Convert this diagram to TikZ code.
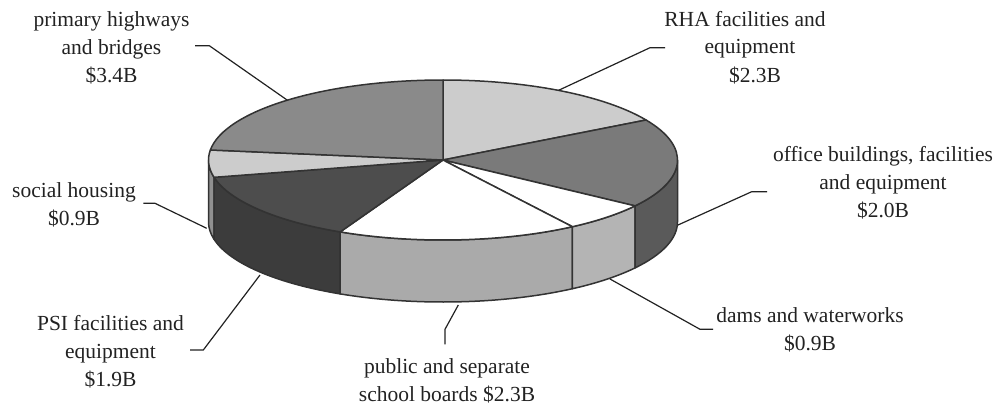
\documentclass[tikz,border=0pt]{standalone}
\usepackage{fontspec}
\setmainfont{Liberation Serif}
\usetikzlibrary{calc}
\definecolor{edge}{HTML}{333333}
\definecolor{ink}{HTML}{222222}
\definecolor{cHigh}{HTML}{8A8A8A}
\definecolor{cRHA}{HTML}{CCCCCC}
\definecolor{cOffTop}{HTML}{7A7A7A}
\definecolor{cOffSide}{HTML}{5A5A5A}
\definecolor{cDamSide}{HTML}{B4B4B4}
\definecolor{cSchSide}{HTML}{AAAAAA}
\definecolor{cPSITop}{HTML}{4D4D4D}
\definecolor{cPSISide}{HTML}{3C3C3C}
\definecolor{cSocTop}{HTML}{CCCCCC}
\definecolor{cSocSide}{HTML}{909090}
\begin{document}
\begin{tikzpicture}[x=1pt,y=1pt,
  slice/.style={draw=edge,line width=1.5pt,line join=round},
  leader/.style={draw=ink,line width=1.2pt},
  lbl/.style={text=ink,align=center,anchor=base,inner sep=0pt,
    font=\fontsize{21.5}{28}\selectfont}]
\useasboundingbox (0,0) rectangle (1000,408);
\def\cx{443}\def\cy{248}\def\rx{234.5}\def\ry{80}\def\dd{62}
% side walls
\newcommand{\sidewall}[3]{%
  \path[slice,fill=#3] ({\cx+\rx*cos(#1)},{\cy+\ry*sin(#1)})
    arc[start angle=#1,end angle=#2,x radius=\rx pt,y radius=\ry pt]
    -- ++(0,-\dd)
    arc[start angle=#2,end angle=#1,x radius=\rx pt,y radius=\ry pt]
    -- cycle;}
\sidewall{-180}{-167.5}{cSocSide}
\sidewall{-167.5}{-116}{cPSISide}
\sidewall{-116}{-56.5}{cSchSide}
\sidewall{-56.5}{-35}{cDamSide}
\sidewall{-35}{0}{cOffSide}
% top sectors
\newcommand{\sector}[3]{%
  \path[slice,fill=#3] (\cx,\cy) -- ({\cx+\rx*cos(#1)},{\cy+\ry*sin(#1)})
    arc[start angle=#1,end angle=#2,x radius=\rx pt,y radius=\ry pt] -- cycle;}
\sector{90}{30}{cRHA}
\sector{30}{-35}{cOffTop}
\sector{-35}{-56.5}{white}
\sector{-56.5}{-116}{white}
\sector{-116}{-167.5}{cPSITop}
\sector{-167.5}{-187.2}{cSocTop}
\sector{-187.2}{-270}{cHigh}
% leader anchor points
\coordinate (pHigh) at ({\cx+\rx*cos(131.6)},{\cy+\ry*sin(131.6)});
\coordinate (pRHA) at ({\cx+\rx*cos(60.5)},{\cy+\ry*sin(60.5)});
\coordinate (pOff) at (678,183);
\coordinate (pDam) at (610,129);
\coordinate (pSch) at (458.3,103);
\coordinate (pPSI) at (260,133);
\coordinate (pSoc) at (206.7,179.7);
% labels (anchor = baseline of last line)
\node[lbl] (lHigh) at (111.5,325.3) {primary highways\\and bridges\\\$3.4B};
\node[lbl] (lRHA) at (745,326) {RHA facilities and\\\hspace*{10pt}equipment\\\hspace*{20pt}\$2.3B};
\node[lbl] (lOff) at (883,190.3) {office buildings, facilities\\and equipment\\\$2.0B};
\node[lbl] (lSoc) at (74,182.7) {social housing\\\$0.9B};
\node[lbl] (lPSI) at (110.5,22) {PSI facilities and\\equipment\\\$1.9B};
\node[lbl] (lDam) at (810,57.3) {dams and waterworks\\\$0.9B};
\node[lbl] (lSch) at (447,6.7) {public and separate\\school boards \$2.3B};
% leaders
\coordinate (eHigh) at (195,362.3);
\coordinate (eRHA) at (665,360.3);
\coordinate (eOff) at (767,216.3);
\coordinate (eDam) at (713,78.7);
\coordinate (eSch) at (445,63.7);
\coordinate (ePSI) at (190,58);
\coordinate (eSoc) at (143.3,204.7);
\draw[leader] (eHigh) -- (209.3,362.3) -- (pHigh);
\draw[leader] (eRHA) -- (650,360.3) -- (pRHA);
\draw[leader] (eOff) -- (751.7,216.3) -- (pOff);
\draw[leader] (eDam) -- (700,78.7) -- (pDam);
\draw[leader] (eSch) -- (445,78.7) -- (pSch);
\draw[leader] (ePSI) -- (203.3,58) -- (pPSI);
\draw[leader] (eSoc) -- (155,204.7) -- (pSoc);
\end{tikzpicture}
\end{document}
